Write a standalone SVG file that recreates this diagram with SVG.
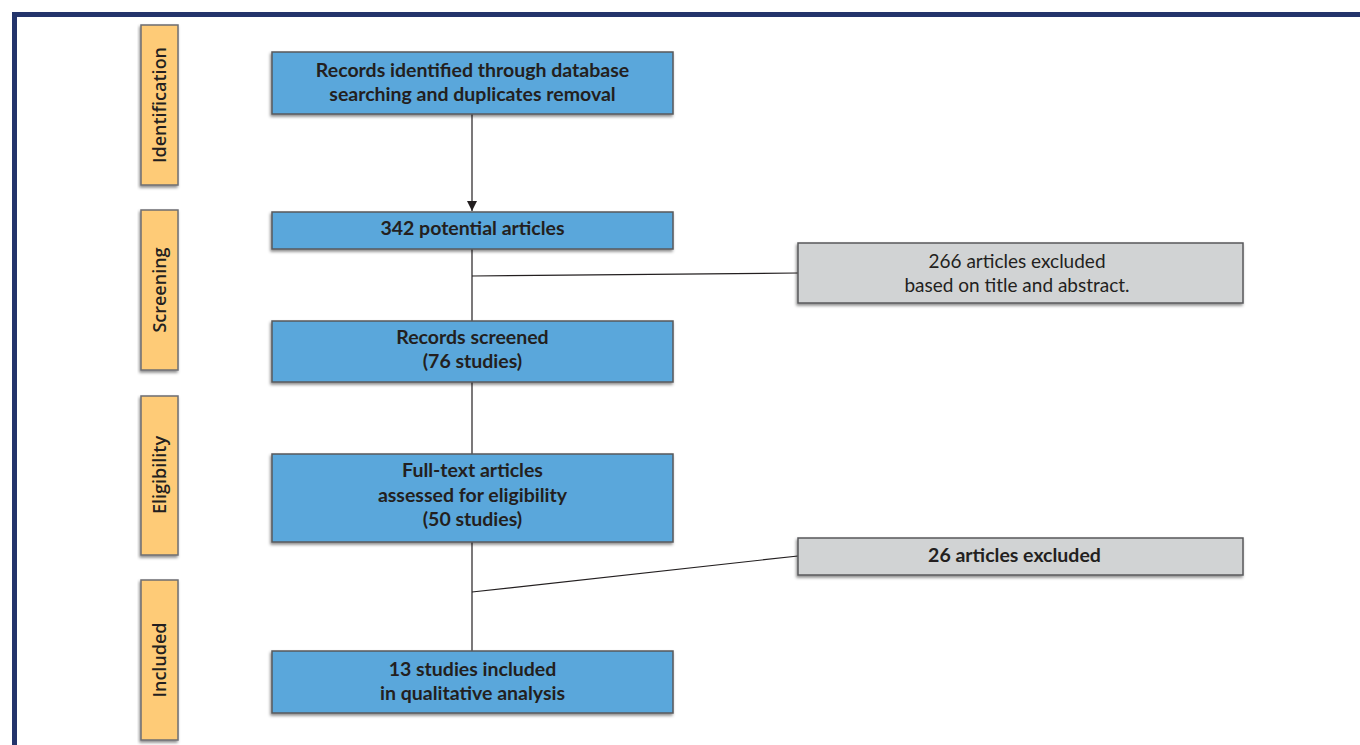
<svg xmlns="http://www.w3.org/2000/svg" width="1360" height="745" viewBox="0 0 1360 745">
<defs>
<filter id="sh" x="-10%" y="-10%" width="120%" height="130%">
<feDropShadow dx="-1" dy="2" stdDeviation="1.5" flood-color="#000" flood-opacity="0.45"/>
</filter>
<marker id="arr" markerWidth="12" markerHeight="12" refX="10" refY="5" orient="auto" markerUnits="userSpaceOnUse">
<path d="M0,0 L10,5 L0,10 Z" fill="#231f20"/>
</marker>
</defs>
<style>
.phase{fill:#fecb77;stroke:#6d6e71;stroke-width:1.5;filter:url(#sh)}
.blue{fill:#5aa7db;stroke:#58595b;stroke-width:1.5;filter:url(#sh)}
.gray{fill:#d1d3d4;stroke:#58595b;stroke-width:1.5;filter:url(#sh)}
.pt{font-family:"Open Sans","Liberation Sans",sans-serif;font-weight:600;font-size:18px;fill:#231f20;text-anchor:middle}
.bt{font-family:Lato,"Liberation Sans",sans-serif;font-weight:700;font-size:19.5px;fill:#231f20;text-anchor:middle}
.gt{font-family:Lato,"Liberation Sans",sans-serif;font-weight:400;font-size:19px;fill:#231f20;text-anchor:middle}
.gtb{font-family:Lato,"Liberation Sans",sans-serif;font-weight:700;font-size:19.5px;fill:#231f20;text-anchor:middle}
.ln{stroke:#231f20;stroke-width:1.2;fill:none}
</style>
<rect width="1360" height="745" fill="#fff"/>
<rect x="14.5" y="14.5" width="1360" height="760" fill="none" stroke="#23346b" stroke-width="5"/>

<g id="phase-identification"><rect class="phase" x="141" y="25" width="37" height="160"/><text class="pt" transform="translate(166,105) rotate(-90)">Identification</text></g>
<g id="phase-screening"><rect class="phase" x="141" y="210" width="37" height="160"/><text class="pt" transform="translate(166,290) rotate(-90)">Screening</text></g>
<g id="phase-eligibility"><rect class="phase" x="141" y="396" width="37" height="159"/><text class="pt" transform="translate(166,475) rotate(-90)">Eligibility</text></g>
<g id="phase-included"><rect class="phase" x="141" y="580" width="37" height="160"/><text class="pt" transform="translate(166,660) rotate(-90)">Included</text></g>

<g id="connectors">
<line class="ln" x1="472" y1="114" x2="472" y2="211" marker-end="url(#arr)"/>
<line class="ln" x1="472" y1="249" x2="472" y2="321"/>
<line class="ln" x1="472" y1="276" x2="798" y2="273"/>
<line class="ln" x1="472" y1="382" x2="472" y2="454"/>
<line class="ln" x1="472" y1="542" x2="472" y2="651"/>
<line class="ln" x1="472" y1="592" x2="798" y2="556"/>
</g>

<g id="n-records"><rect class="blue" x="272" y="52" width="401" height="62"/><text class="bt" x="472.5" y="77">Records identified through database</text><text class="bt" x="472.5" y="101">searching and duplicates removal</text></g>
<g id="n-potential"><rect class="blue" x="272" y="212" width="401" height="37"/><text class="bt" x="472.5" y="235">342 potential articles</text></g>
<g id="n-screened"><rect class="blue" x="272" y="321" width="401" height="61"/><text class="bt" x="472.5" y="344">Records screened</text><text class="bt" x="472.5" y="368">(76 studies)</text></g>
<g id="n-fulltext"><rect class="blue" x="272" y="454" width="401" height="88"/><text class="bt" x="472.5" y="477">Full-text articles</text><text class="bt" x="472.5" y="502">assessed for eligibility</text><text class="bt" x="472.5" y="526">(50 studies)</text></g>
<g id="n-included"><rect class="blue" x="272" y="651" width="401" height="62"/><text class="bt" x="472.5" y="676">13 studies included</text><text class="bt" x="472.5" y="700">in qualitative analysis</text></g>

<g id="n-excl1"><rect class="gray" x="798" y="243" width="445" height="60"/><text class="gt" x="1017" y="268">266 articles excluded</text><text class="gt" x="1017" y="292">based on title and abstract.</text></g>
<g id="n-excl2"><rect class="gray" x="798" y="538" width="445" height="37"/><text class="gtb" x="1014.5" y="562">26 articles excluded</text></g>
</svg>
